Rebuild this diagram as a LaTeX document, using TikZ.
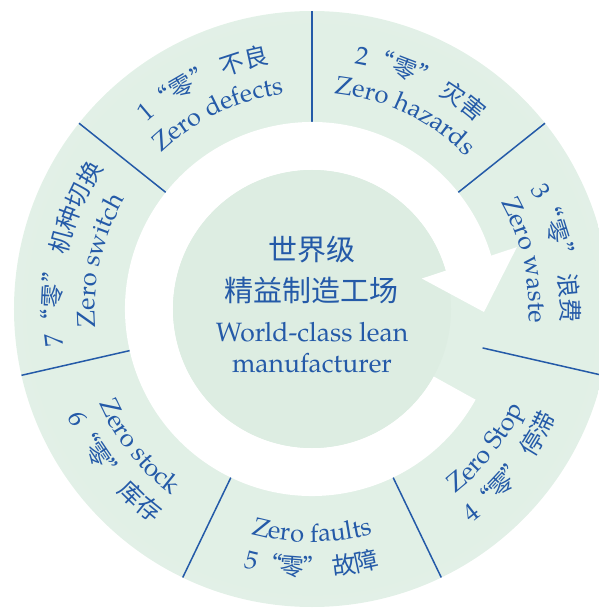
\documentclass[tikz,border=0pt]{standalone}
\usepackage{fontspec}
\setmainfont{TeX Gyre Pagella}
\newfontfamily\cjkfont{Noto Sans CJK SC}
\usetikzlibrary{decorations.text}
\definecolor{tblue}{RGB}{36,90,168}
\definecolor{ringout}{RGB}{208,230,214}
\definecolor{ringin}{RGB}{229,242,233}
\definecolor{gapgreen}{RGB}{225,240,230}
\definecolor{cin}{RGB}{221,237,226}
\definecolor{cout}{RGB}{237,246,240}
\pgfdeclareradialshading{ringshade}{\pgfpoint{0bp}{0bp}}{color(0bp)=(gapgreen); color(23bp)=(gapgreen); color(31bp)=(ringin); color(50bp)=(ringout); color(72bp)=(ringout)}
\pgfdeclareradialshading{coreshade}{\pgfpoint{0bp}{0bp}}{color(0bp)=(cin); color(28bp)=(cin); color(50bp)=(cout); color(72bp)=(cout)}
\protected\def\ringlat{\fontsize{25.5pt}{30pt}\selectfont\rmfamily}
\protected\def\ringcjk{\fontsize{24pt}{30pt}\selectfont\cjkfont}
\newcommand\cwtext[3]{%
  \path[decorate,decoration={text along path,text align=center,text color=tblue,text={#3}}]
    ({#1+50}:#2) arc[start angle={#1+50},end angle={#1-50},radius=#2];}
\newcommand\ccwtext[3]{%
  \path[decorate,decoration={text along path,text align=center,text color=tblue,text={#3}}]
    ({#1-50}:#2) arc[start angle={#1-50},end angle={#1+50},radius=#2];}
\tikzset{
  sepline/.style={draw=tblue,line width=1.5pt},
  cjkline/.style={text=tblue,inner sep=0pt,font=\fontsize{29pt}{34pt}\selectfont\cjkfont},
  latline/.style={text=tblue,inner sep=0pt,anchor=base,font=\fontsize{26.5pt}{31pt}\selectfont\rmfamily}
}
\begin{document}
\begin{tikzpicture}
\useasboundingbox (-312pt,-299pt) rectangle (286pt,309pt);
% ring disk
\shade[shading=ringshade] (0,0) circle[radius=298pt];
% separators
\foreach \a in {90,141.43,192.86,244.29,295.71,347.14,38.57}
  \draw[sepline] (\a:175pt) -- (\a:298pt);
% white arrow band
\fill[white] (-29:187pt) arc[start angle=-29,end angle=-345.5,radius=187pt]
  -- (-345.5:139pt) arc[start angle=-345.5,end angle=-29,radius=139pt] -- cycle;
% centre disc
\shade[shading=coreshade] (0,0) circle[radius=139pt];
% arrow head
\fill[white] (15.5:114pt) -- (16.8:214pt) -- (-1:172pt) -- cycle;
% centre text
\node[cjkline] (c1) at (0,59pt) {世界级};
\node[cjkline] (c2) at (0,19pt) {精益制造工场};
\node[latline] (c3) at (0,-32pt) {World-class lean};
\node[latline] (c4) at (0,-63pt) {manufacturer};
% ring texts, top half
\cwtext{115.71}{249pt}{|\ringlat|1|\ringcjk|“零” 不良}
\cwtext{115.71}{217pt}{|\ringlat|Zero defects}
\cwtext{64.29}{249pt}{|\ringlat|2|\ringcjk|“零” 灾害}
\cwtext{64.29}{217pt}{|\ringlat|Zero hazards}
\cwtext{12.86}{249pt}{|\ringlat|3|\ringcjk|“零” 浪费}
\cwtext{12.86}{217pt}{|\ringlat|Zero waste}
\cwtext{167.14}{251pt}{|\ringlat|7|\ringcjk|“零” 机种切换}
\cwtext{167.14}{217pt}{|\ringlat|Zero switch}
% ring texts, bottom half
\ccwtext{-38.57}{233pt}{|\ringlat|Zero Stop}
\ccwtext{-38.57}{267pt}{|\ringlat|4|\ringcjk|“零” 停滞}
\ccwtext{-90}{233pt}{|\ringlat|Zero faults}
\ccwtext{-90}{267pt}{|\ringlat|5|\ringcjk|“零” 故障}
\ccwtext{-141.43}{233pt}{|\ringlat|Zero stock}
\ccwtext{-141.43}{267pt}{|\ringlat|6|\ringcjk|“零” 库存}
\end{tikzpicture}
\end{document}
